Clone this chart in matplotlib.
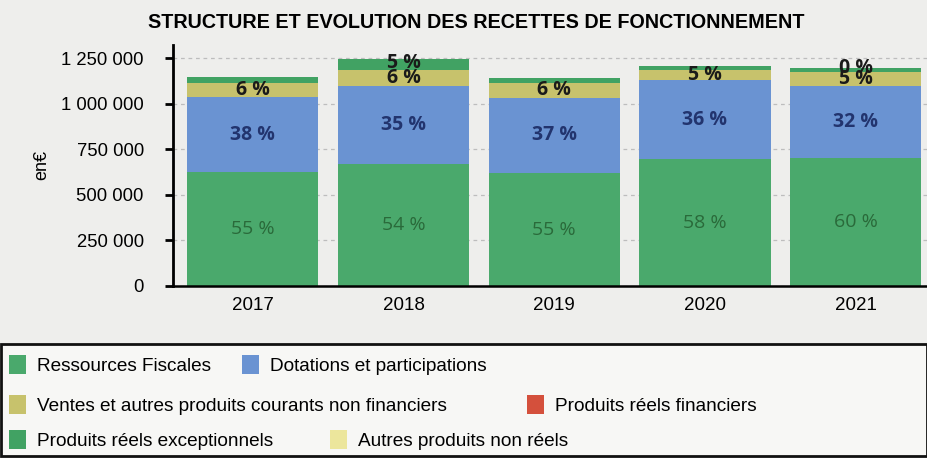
import matplotlib
matplotlib.use("Agg")
import matplotlib.pyplot as plt
from matplotlib.ticker import FuncFormatter
from matplotlib.patches import Patch, Rectangle

years = ["2017", "2018", "2019", "2020", "2021"]
ressources_fiscales = [623000, 669000, 618000, 696000, 703000]
dotations = [415000, 427000, 416000, 433000, 393000]
ventes = [73000, 88000, 77000, 55000, 79000]
produits_financiers = [0, 0, 0, 0, 0]
produits_exceptionnels = [33000, 59000, 28000, 22000, 22000]
autres_non_reels = [0, 0, 0, 0, 0]

pct_ressources = ["55 %", "54 %", "55 %", "58 %", "60 %"]
pct_dotations = ["38 %", "35 %", "37 %", "36 %", "32 %"]
pct_ventes = ["6 %", "6 %", "6 %", "5 %", "5 %"]
pct_exceptionnels = ["", "5 %", "", "", "0 %"]

yticks = [0, 250000, 500000, 750000, 1000000, 1250000]

series_names = ["Ressources Fiscales", "Dotations et participations",
                "Ventes et autres produits courants non financiers",
                "Produits réels financiers", "Produits réels exceptionnels",
                "Autres produits non réels"]
colors = {"res": "#4aa96c", "dot": "#6a93d2", "ven": "#c7c26c",
          "fin": "#d4503c", "exc": "#41a263", "aut": "#ece69c"}

sans = ["Liberation Sans", "DejaVu Sans"]
lab_font = ["Open Sans", "DejaVu Sans"]

fig = plt.figure(figsize=(9.28, 4.58), dpi=100)
fig.patch.set_facecolor("#eeeeec")
ax = fig.add_axes([173/928, 1 - 286/458, 1 - 173/928, (286 - 45)/458])
ax.set_facecolor("none")

x = list(range(len(years)))
w = 0.87
bottom = [0] * len(years)
stack = [(ressources_fiscales, "res"), (dotations, "dot"), (ventes, "ven"),
         (produits_financiers, "fin"), (produits_exceptionnels, "exc"),
         (autres_non_reels, "aut")]
bottoms = {}
for vals, key in stack:
    bottoms[key] = list(bottom)
    ax.bar(x, vals, w, bottom=bottom, color=colors[key], zorder=2, linewidth=0)
    bottom = [b + v for b, v in zip(bottom, vals)]

for i in x:
    ax.text(i, bottoms["res"][i] + ressources_fiscales[i] / 2, pct_ressources[i],
            ha="center", va="center", fontsize=14, color="#2a6a3a",
            family=lab_font, zorder=3)
    ax.text(i, bottoms["dot"][i] + dotations[i] / 2, pct_dotations[i],
            ha="center", va="center", fontsize=14, color="#22346e",
            fontweight="bold", family=lab_font, zorder=3)
    ax.text(i, bottoms["ven"][i] + ventes[i] / 2, pct_ventes[i],
            ha="center", va="center", fontsize=14, color="#1a1a1a",
            fontweight="bold", family=lab_font, zorder=3)
    if pct_exceptionnels[i]:
        ax.text(i, bottoms["exc"][i] + produits_exceptionnels[i] / 2 + 8000,
                pct_exceptionnels[i], ha="center", va="center", fontsize=14,
                color="#1a1a1a", fontweight="bold", family=lab_font, zorder=3)

ax.set_xlim(-0.53, 4.48)
ax.set_ylim(0, 1322000)
ax.set_yticks(yticks)
ax.yaxis.set_major_formatter(FuncFormatter(lambda v, p: f"{int(v):,}".replace(",", " ")))
ax.set_xticks(x)
ax.set_xticklabels(years)
ax.tick_params(axis="x", length=0, pad=8, labelsize=13.5)
ax.tick_params(axis="y", length=6, width=2, labelsize=13.3, pad=15)
for lab in ax.get_xticklabels() + ax.get_yticklabels():
    lab.set_family(sans)
ax.grid(axis="y", color="#bdbdbd", linestyle=(0, (3, 3)), linewidth=0.9, zorder=0)
for s in ["top", "right"]:
    ax.spines[s].set_visible(False)
ax.spines["left"].set_linewidth(2)
ax.spines["bottom"].set_linewidth(1.8)
ax.set_ylabel("en€", fontsize=13, family=sans, labelpad=8)

fig.text(476/928, 1 - 23/458, "STRUCTURE ET EVOLUTION DES RECETTES DE FONCTIONNEMENT",
         ha="center", va="center", fontsize=14.2, fontweight="bold", family=sans)

# legend box
fig.patches.append(Rectangle((0.001, 0.004), 0.998, (458 - 346) / 458, transform=fig.transFigure,
                             facecolor="#f7f7f5", edgecolor="#111111", linewidth=2, zorder=0))

rows = [
    [(series_names[0], colors["res"], 9), (series_names[1], colors["dot"], 242)],
    [(series_names[2], colors["ven"], 9), (series_names[3], colors["fin"], 527)],
    [(series_names[4], colors["exc"], 9), (series_names[5], colors["aut"], 330)],
]
row_y = [365, 405, 440]
for ry, row in zip(row_y, rows):
    for name, col, px in row:
        fig.legend(handles=[Patch(facecolor=col, edgecolor="none")], labels=[name],
                   loc="center left", bbox_to_anchor=(px / 928, 1 - ry / 458),
                   frameon=False, handlelength=0.9, handleheight=1.2,
                   handletextpad=0.55, borderaxespad=0, borderpad=0,
                   prop={"family": sans, "size": 13.7})

fig.savefig("out.png", dpi=100, facecolor=fig.get_facecolor())
